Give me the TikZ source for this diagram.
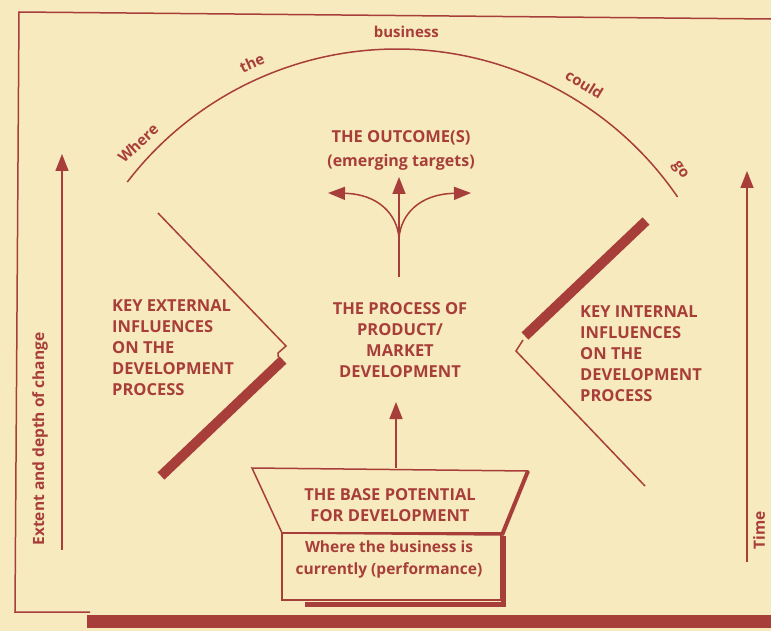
\documentclass[tikz,border=0pt]{standalone}
\usepackage{fontspec}
\setmainfont{Open Sans}
\usetikzlibrary{arrows.meta}
\definecolor{ink}{RGB}{168,62,58}
\definecolor{paper}{RGB}{247,234,190}
\begin{document}
\begin{tikzpicture}[x=1pt,y=-1pt,
  txt/.style={text=ink,font=\bfseries\fontsize{16.5}{21}\selectfont,inner sep=0pt},
  arclbl/.style={text=ink,font=\bfseries\fontsize{15}{15}\selectfont,inner sep=0pt},
  thinln/.style={draw=ink,line width=1.5pt},
  thickln/.style={draw=ink,line width=10pt},
  tipped/.style={thinln,-{Triangle[length=17pt,width=13pt]}}]
\useasboundingbox (0,0) rectangle (771,631);
\fill[paper] (0,0) rectangle (771,631);
% frame
\draw[thinln] (771,19) -- (19,12) -- (15,612) -- (90,612);
\fill[ink] (87,615) rectangle (771,628);
% axes
\coordinate (lbot) at (62,550);
\coordinate (ltop) at (62,154);
\draw[tipped] (lbot) -- (ltop);
\node[txt,font=\bfseries\fontsize{15.5}{16}\selectfont,rotate=90] (lab) at (40,439) {Extent and depth of change};
\coordinate (rbot) at (747,562);
\coordinate (rtop) at (747,171);
\draw[tipped] (rbot) -- (rtop);
\node[txt,font=\bfseries\fontsize{15.5}{16}\selectfont,rotate=90] (time) at (759,530) {Time};
% arc
\coordinate (ctr) at (397,389);
\draw[thinln] ([shift={(-142.5:340)}]ctr) arc[start angle=-142.5,end angle=-34.4,radius=340];
\node[arclbl,rotate=43] (w1) at ([shift={(-136.5:357)}]ctr) {Where};
\node[arclbl,rotate=24] (w2) at ([shift={(-114:357)}]ctr) {the};
\node[arclbl] (w3) at ([shift={(-88.5:357)}]ctr) {business};
\node[arclbl,rotate=-31.5] (w4) at ([shift={(-58.4:358)}]ctr) {could};
\node[arclbl,rotate=-56] (w5) at ([shift={(-37.7:357)}]ctr) {go};
% outcome
\node[txt] (outcome) at (401,138) {THE OUTCOME(S)};
\node[txt,font=\bfseries\fontsize{16}{16}\selectfont] (targets) at (401,162) {(emerging targets)};
\coordinate (stem) at (399,277);
\coordinate (split) at (399,238);
\coordinate (tipc) at (399,177);
\coordinate (tipl) at (328,193);
\coordinate (tipr) at (471,193);
\draw[tipped] (stem) -- (tipc);
\draw[tipped] (split) .. controls (397,214) and (378,194) .. (tipl);
\draw[tipped] (split) .. controls (401,214) and (420,194) .. (tipr);
% process
\node[txt,align=center] (process) at (400,340) {THE PROCESS OF\\PRODUCT/\\MARKET\\DEVELOPMENT};
% external
\node[txt,align=left,anchor=west] (ext) at (112,348) {KEY EXTERNAL\\INFLUENCES\\ON THE\\DEVELOPMENT\\PROCESS};
\draw[thinln] (158,213) -- (286,346) -- (278,353) -- (278,357);
\draw[thickln] (283,360) -- (161,476);
% internal
\node[txt,align=left,anchor=west] (int) at (580,354) {KEY INTERNAL\\INFLUENCES\\ON THE\\DEVELOPMENT\\PROCESS};
\draw[thickln] (646,221) -- (525,336);
\draw[thinln] (523,340) -- (516,351) -- (645,486);
% base
\coordinate (btl) at (252,468);
\coordinate (btr) at (528,471);
\coordinate (bbr) at (502,535);
\coordinate (bbl) at (282,533);
\draw[thinln] (btl) -- (btr) -- (bbr) -- (bbl) -- cycle;
\draw[draw=ink,line width=4pt] (btr) -- (bbr);
\draw[thinln] (bbl) rectangle (501,600);
\draw[draw=ink,line width=5pt] (305,604) -- (503,604) -- (503,536);
\node[txt,align=center] (base) at (390,505) {THE BASE POTENTIAL\\FOR DEVELOPMENT};
\node[txt,align=center,font=\bfseries\fontsize{15.5}{22}\selectfont] (current) at (389,559) {Where the business is\\currently (performance)};
\coordinate (basetop) at (396,468);
\coordinate (proctip) at (396,402);
\draw[tipped] (basetop) -- (proctip);
\end{tikzpicture}
\end{document}
